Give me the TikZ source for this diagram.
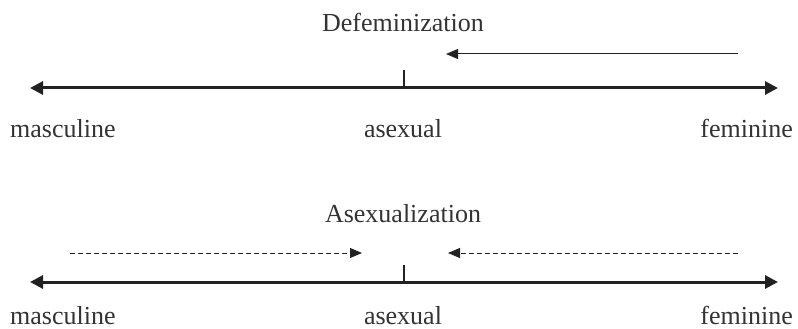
\documentclass[tikz,border=0pt]{standalone}
\usepackage{fontspec}
\setmainfont{Liberation Serif}
\usetikzlibrary{arrows.meta}
\definecolor{ink}{HTML}{222222}
\definecolor{txt}{HTML}{333333}
\begin{document}
\begin{tikzpicture}[x=1pt,y=-1pt,
  axisline/.style={line width=3pt, draw=ink, {Triangle[length=13pt,width=13pt]}-{Triangle[length=13pt,width=13pt]}},
  tickline/.style={line width=1.5pt, draw=ink},
  solidarrow/.style={line width=1pt, draw=ink, -{Triangle[length=12pt,width=10pt]}},
  dasharrow/.style={line width=0.9pt, draw=ink, dash pattern=on 5pt off 3pt, -{Triangle[length=12pt,width=10pt]}},
  lbl/.style={inner sep=0pt, text=txt, font=\fontsize{26}{28}\selectfont}]
\useasboundingbox (0,0) rectangle (798,329);
% top diagram
\coordinate (tL) at (30,88);
\coordinate (tR) at (778,88);
\coordinate (tM) at (404,88);
\coordinate (tMtop) at (404,70);
\coordinate (dS) at (738,54);
\coordinate (dE) at (446,54);
\draw[axisline] (tL) -- (tR);
\draw[tickline] (tM) -- (tMtop);
\draw[solidarrow] (dS) -- (dE);
\node[lbl, anchor=base] (defem) at (403,32) {Defeminization};
\node[lbl, anchor=base west] (tmasc) at (10,137) {masculine};
\node[lbl, anchor=base] (tasex) at (403,137) {asexual};
\node[lbl, anchor=base east] (tfem) at (793,137) {feminine};
% bottom diagram
\coordinate (bL) at (30,282);
\coordinate (bR) at (778,282);
\coordinate (bM) at (404,282);
\coordinate (bMtop) at (404,265);
\coordinate (aS1) at (70,253);
\coordinate (aE1) at (362,253);
\coordinate (aS2) at (738,253);
\coordinate (aE2) at (448,253);
\draw[axisline] (bL) -- (bR);
\draw[tickline] (bM) -- (bMtop);
\draw[dasharrow] (aS1) -- (aE1);
\draw[dasharrow] (aS2) -- (aE2);
\node[lbl, anchor=base] (asexz) at (403,222) {Asexualization};
\node[lbl, anchor=base west] (bmasc) at (10,324) {masculine};
\node[lbl, anchor=base] (basex) at (403,324) {asexual};
\node[lbl, anchor=base east] (bfem) at (793,324) {feminine};
\end{tikzpicture}
\end{document}
